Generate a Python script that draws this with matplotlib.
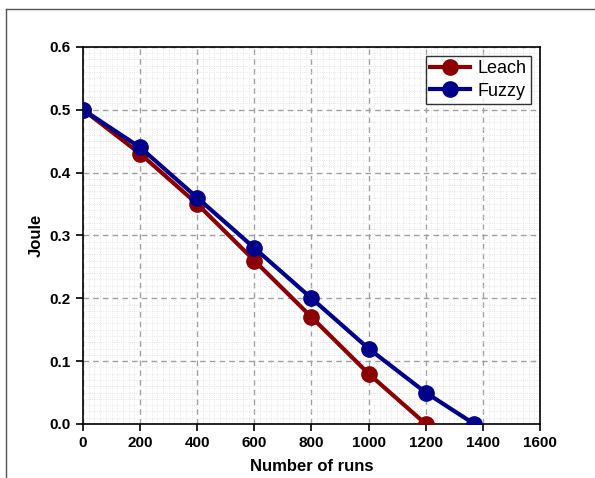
import matplotlib
matplotlib.use("Agg")
import matplotlib.pyplot as plt
from matplotlib.lines import Line2D
from matplotlib.ticker import MultipleLocator

plt.rcParams['font.family'] = ['Liberation Sans', 'DejaVu Sans']

# data
leach_x = [0, 200, 400, 600, 800, 1000, 1200]
leach_y = [0.50, 0.43, 0.35, 0.26, 0.17, 0.08, 0.0]
fuzzy_x = [0, 200, 400, 600, 800, 1000, 1200, 1370]
fuzzy_y = [0.50, 0.44, 0.36, 0.28, 0.20, 0.12, 0.05, 0.0]

fig = plt.figure(figsize=(5.95, 4.78), dpi=100)
ax = fig.add_axes([0.1395, 0.113, 0.768, 0.789])

ax.plot(leach_x, leach_y, color='#8b0000', lw=3.0, marker='o', ms=11, label='Leach', zorder=3)
ax.plot(fuzzy_x, fuzzy_y, color='#00008b', lw=3.0, marker='o', ms=11, label='Fuzzy', zorder=4)

ax.set_xlim(0, 1600)
ax.set_ylim(0, 0.6)
ax.xaxis.set_major_locator(MultipleLocator(200))
ax.yaxis.set_major_locator(MultipleLocator(0.1))
ax.xaxis.set_minor_locator(MultipleLocator(20))
ax.yaxis.set_minor_locator(MultipleLocator(0.01))
ax.yaxis.set_major_formatter(plt.FormatStrFormatter('%.1f'))

ax.grid(which='minor', color='#dedede', linestyle=':', lw=0.6)
ax.grid(which='major', color='#a0a0a0', linestyle=(0, (4, 3)), lw=1.0)
ax.set_axisbelow(True)

ax.tick_params(which='major', direction='out', length=5, width=1.2, labelsize=11, pad=4)
ax.tick_params(which='minor', length=0)
for lab in ax.get_xticklabels() + ax.get_yticklabels():
    lab.set_fontweight('bold')
for s in ax.spines.values():
    s.set_linewidth(1.2)

ax.set_xlabel('Number of runs', fontsize=12, fontweight='bold', labelpad=6)
ax.set_ylabel('Joule', fontsize=12, fontweight='bold', labelpad=4)

leg = ax.legend(loc='upper right', fontsize=13, frameon=True, fancybox=False,
                edgecolor='black', handlelength=2.2, borderpad=0.25,
                labelspacing=0.3, handletextpad=0.4, borderaxespad=0.5)
leg.get_frame().set_linewidth(1.0)

# outer frame (cut off at right and bottom)
fig.add_artist(Line2D([6 / 595, 1.0], [1 - 9 / 478, 1 - 9 / 478], color='#555555', lw=1.0))
fig.add_artist(Line2D([6 / 595, 6 / 595], [0.0, 1 - 9 / 478], color='#555555', lw=1.0))

fig.savefig('out.png', dpi=100)
